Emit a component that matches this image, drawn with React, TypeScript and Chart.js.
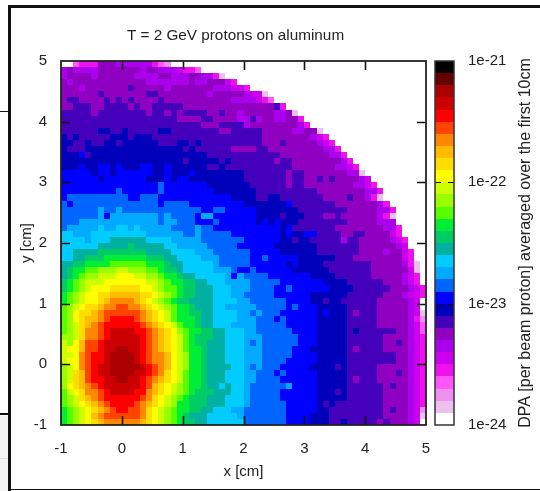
import React, { useEffect, useRef } from "react";
import { Chart, registerables } from "chart.js";

Chart.register(...registerables);

const TITLE = "T = 2 GeV protons on aluminum";
const X_LABEL = "x [cm]";
const Y_LABEL = "y [cm]";
const BAR_LABEL = "DPA [per beam proton] averaged over the first 10cm";
const BAR_TICKS = ["1e-24", "1e-23", "1e-22", "1e-21"];
const FONT = "'Liberation Sans', Arial, sans-serif";

// Palette: one colour per band of the colour bar, from 1e-24 upward (10 bands a decade)
const LEVEL_COLORS = [
  "#ffffff", "#ecc0ec", "#ee90ee", "#ff55ff", "#ee11ee", "#cc00ee", "#aa00ee", "#9000c0", "#4400bb", "#0000bb",
  "#0000ff", "#0066ff", "#00aaff", "#00ccff", "#00b0a0", "#00cc66", "#00ee33", "#55ff00", "#99ff00", "#ccff00",
  "#ffff00", "#ffdd00", "#ffbb00", "#ff8800", "#ff4400", "#ff0000", "#cc0000", "#aa0000", "#660000", "#000000",
];

// Band index (base 36) of each 0.1 cm cell; top row is y = 4.9..5, first column x = -1..-0.9
const CELL_ROWS = [
  "0034447776 66666432",
  "6766667777 7776776665 443",
  "6777767777 7766667766 6776641",
  "7677777777 7777666666 676677754",
  "7776777777 7877777677 7777766655 4",
  "7777778777 7777887777 7777677777 6551",
  "7887777878 7877778777 7777777766 66543",
  "7788877888 8787788888 7777777777 7777784",
  "8888878888 8888788787 8888778776 777776671",
  "8888888888 8888888887 7778877776 6867766774",
  "8888888888 8888888888 8887778888 6777777776 4",
  "8888889988 9888889988 8888887788 8887777766 771",
  "9898888899 9899988888 8888888888 8887777777 7654",
  "9988988998 9999998889 9898888888 8887778777 77654",
  "9888999999 9999999999 8988888877 7788777777 777664",
  "999a899999 9999999999 9999888888 8888887777 7777664",
  "9999999999 9999999999 8999998988 8888878877 77777764",
  "999a99aa9a 999aa99a99 9999889888 8888888877 777776654",
  "aaaaa9aa9a aaaaa99a99 9a99999999 8888888788 7777777661",
  "aaaaaa9aaa aaaa999a9a a999999999 8888888788 77878777765",
  "aaaaaaaaaa aaaaaabaaa aaaa999999 9888888788 777777776654",
  "aaaaaaaaab aaaaaabaaa aaaaa99999 9988888888 8877777777664",
  "abbbbbbbbb baabbbaaaa aaaaaaaa99 9988998888 8887777877641",
  "babbbbbbbb bbbbbbabbb baaaaaaaaa 9999999a88 88888777777764",
  "bbbbbbcbbc bbbbbbbbbb bbbaabbaaa aa99999998 888888877777664",
  "bbbbbbcacc ccccccbcbb bbaccaaaaa aa99998999 888778777777641",
  "bbbccccccc ccccccbccb bbaaabaaaa aa9a9a9998 888888877777666",
  "bcccccdccd dcdcccccbb bbcbbaaaaa aaaaaa9a88 8888877777777664",
  "ddcccddddd ddddcccccc bbcbbbbbaa aaaaaa9a99 aa88887788777754",
  "ddddcdddee eeeeddddcc cccbbbbbbb aaaaaa9989 98888868877777654",
  "ddddddeeee efeeeeeddc ccccbbbbba aaaaa99999 9988888887 7777765",
  "ddeeeeffff ffffeeeedd ddcccbbbbb baaaaa9999 9988888887 77767754",
  "ddeefffggg ggggfffeed dddcccbbbb baabaaaaa9 9999988877 77777754",
  "eeffgggghh hhhhgggfee dddddcbbbb baaaaaa9a9 9998888888 877777641",
  "efgghhiiij jiiihhgffe dddddcccba abaaaaaa99 9999888888 877777751",
  "efghiijjjk kkjjiihggf eedddddcac bbbbaaaaaa a999988888 877777654",
  "fghijjjkkk kkkkjjihgg ffeedddccc cbbbbbaaaa aaa9999888 888777654",
  "fghijkkkll lllkkjihhg ffeeedddcc cbbbbaabaa aaaa999988 8888777654",
  "ghijkkllmm mmmllkjihg ffeeedddcc bbbbbaaaaa a999999888 8887776554",
  "ghijkklmnn nnmlkjihgf feeeeddddc cbbbbbbaaa a998998888 8877777650",
  "hijkllmnno onnmlkjihg gfeeeddccc ccbbbbbaba aa99999888 8877777650",
  "hikllmnooo ooonmlkjhg gffeeddddc cbcbbbaaaa aa9a999878 8877777651",
  "hiklmmnopp pponmlkjhg ggfeeddddc ccbbbabaaa aa99999888 8877777642",
  "hijlmnoppp ppponmlkjh ggfeedddcc ccbbbbbaaa aa99999888 8877777653",
  "hijlnnopqq qqpponmlki hggffeeddd ccbbbbbbaa aa99999898 8888877653",
  "iijlnnopqq qqqponmlkj hgfffeeddd cccbbbbbba aa99999888 8887777654",
  "jikmoopqqq qqqponmlkj hgffeeeddd cbcbbbbbba aa99999888 8887787654",
  "jkkmoopqqr rqqponmlkj hggfeeeddd cccbbbbbaa a999999878 8887777654",
  "jjknoppqrr rrqponnmkj iggfeeeddd cccbbbbbaa aa99999888 8888877654",
  "jkknoppqrr rrqponnmkj iggfeeeddd cccbbbbaaa aa99999888 8888877654",
  "ijknopqqrr rrrqponmkj iggfeeeedd cbcbbbaaaa a999989888 8877777654",
  "ijlmopqqrr rrqqponlkj hggfeeeddd ccbbbabaaa aa99999888 8877787654",
  "ijlmoppqqr rqqponmlkj hggfeeeddd ccbbbbaaaa aa99999878 8877777654",
  "iklmnopqqq qqqpomlkji hggfeededd cbbbbbbcaa aa99999888 8887877654",
  "hjklnnopqq qqppnmlkji hgfffeeedd cbbbbbaaaa aa99989888 8887777654",
  "hijlmnoppp ppponlkjih gfffeeeddd cbbbbbaaaa aa99999888 8887777654",
  "hijklmnopp pponmlkjig gfffeeeddd cbbbbbbaaa aa98988888 8887777654",
  "ghijklmnop poonlkjihg gffeedddcc bbbbbbbaaa aa99888888 8887877652",
  "ghijkmnooo ooonlkjihg feeedddddc bbbbbbbaaa a999888888 8887777651",
  "ghijklmnnn nnnmlkjihg ffeedddddd bbbbbbbaaa a999889888 8878777650",
];

const AXIS_MIN = -1;
const AXIS_MAX = 5;
const CELL = 0.1;
const BAR_MIN = 1e-24;
const BAR_MAX = 1e-21;

const cells: { x: number; y: number; v: number }[] = [];
CELL_ROWS.forEach((row, j) => {
  row.replace(/ /g, "").split("").forEach((ch, i) => {
    cells.push({ x: AXIS_MIN + i * CELL, y: AXIS_MAX - (j + 1) * CELL, v: parseInt(ch, 36) });
  });
});

const BAR_LEFT = 435;
const BAR_RIGHT = 454;

const chrome = {
  id: "chrome",
  beforeDraw(chart: any) {
    const c = chart.ctx;
    c.save();
    c.fillStyle = "#ffffff";
    c.fillRect(0, 0, 540, 491);
    c.fillStyle = "#f4f4f4";
    c.fillRect(0, 416, 8, 75);
    c.fillStyle = "#dddddd";
    c.fillRect(0, 458, 8, 1);
    c.fillStyle = "#111111";
    c.fillRect(8, 5, 532, 3);
    c.fillRect(8, 5, 3, 486);
    c.fillRect(10, 489, 530, 1);
    c.fillRect(0, 111, 9, 1);
    c.fillRect(0, 413, 9, 2);
    c.fillStyle = "#222222";
    c.font = `15.3px ${FONT}`;
    c.textAlign = "center";
    c.textBaseline = "middle";
    c.fillText(TITLE, 235.5, 36);
    c.restore();
  },
};

const heat = {
  id: "heat",
  beforeDatasetsDraw(chart: any) {
    const { ctx: c, scales } = chart;
    const xs = scales.x;
    const ys = scales.y;
    for (const d of chart.data.datasets[0].data) {
      const l = Math.round(xs.getPixelForValue(d.x));
      const r = Math.round(xs.getPixelForValue(d.x + CELL));
      const t = Math.round(ys.getPixelForValue(d.y + CELL));
      const b = Math.round(ys.getPixelForValue(d.y));
      c.fillStyle = LEVEL_COLORS[d.v];
      c.fillRect(l, t, r - l, b - t);
    }
  },
  afterDatasetsDraw(chart: any) {
    const { ctx: c, scales, chartArea: a } = chart;
    const xs = scales.x;
    const ys = scales.y;
    const cb = scales.cb;
    c.save();
    // tick marks inside the plot on all four sides
    c.strokeStyle = "#111111";
    c.lineWidth = 1.6;
    c.beginPath();
    xs.ticks.forEach((t: any) => {
      const p = Math.round(xs.getPixelForValue(t.value)) + 0.5;
      if (t.value === AXIS_MIN || t.value === AXIS_MAX) return;
      c.moveTo(p, a.bottom);
      c.lineTo(p, a.bottom - 9);
      c.moveTo(p, a.top);
      c.lineTo(p, a.top + 9);
    });
    ys.ticks.forEach((t: any) => {
      const p = Math.round(ys.getPixelForValue(t.value)) + 0.5;
      if (t.value === AXIS_MIN || t.value === AXIS_MAX) return;
      c.moveTo(a.left, p);
      c.lineTo(a.left + 9, p);
      c.moveTo(a.right, p);
      c.lineTo(a.right - 9, p);
    });
    c.stroke();
    c.strokeStyle = "#222222";
    c.lineWidth = 1.8;
    c.strokeRect(a.left, a.top, a.right - a.left, a.bottom - a.top);

    // colour bar
    LEVEL_COLORS.forEach((col, i) => {
      const lo = Math.round(cb.getPixelForValue(BAR_MIN * Math.pow(10, i / 10)));
      const hi = Math.round(cb.getPixelForValue(BAR_MIN * Math.pow(10, (i + 1) / 10)));
      c.fillStyle = col;
      c.fillRect(BAR_LEFT, hi, BAR_RIGHT - BAR_LEFT, lo - hi);
    });
    c.strokeStyle = "#111111";
    c.lineWidth = 1;
    c.beginPath();
    cb.ticks.forEach((t: any) => {
      if (t.value <= BAR_MIN || t.value >= BAR_MAX) return;
      const p = Math.round(cb.getPixelForValue(t.value)) + 0.5;
      const len = t.major ? 6 : 3;
      c.moveTo(BAR_LEFT, p);
      c.lineTo(BAR_LEFT + len, p);
      c.moveTo(BAR_RIGHT, p);
      c.lineTo(BAR_RIGHT - len, p);
    });
    c.stroke();
    c.strokeStyle = "#333333";
    c.lineWidth = 1.5;
    c.strokeRect(BAR_LEFT, a.top, BAR_RIGHT - BAR_LEFT, a.bottom - a.top);

    // colour bar title reads bottom to top
    c.translate(526, 243);
    c.rotate(-Math.PI / 2);
    c.fillStyle = "#222222";
    c.font = `16px ${FONT}`;
    c.textAlign = "center";
    c.textBaseline = "middle";
    c.fillText(BAR_LABEL, 0, 0);
    c.restore();
  },
};

export default function App() {
  const ref = useRef<HTMLCanvasElement>(null);
  useEffect(() => {
    const font = { family: FONT, size: 15 };
    const chart = new Chart(ref.current as HTMLCanvasElement, {
      type: "scatter",
      data: { datasets: [{ data: cells as any, pointRadius: 0, showLine: false }] },
      options: {
        responsive: false,
        maintainAspectRatio: false,
        animation: false,
        events: [],
        layout: { padding: { top: 61, left: 0, right: 0, bottom: 0 } },
        plugins: {
          legend: { display: false },
          tooltip: { enabled: false },
          title: { display: false },
        },
        scales: {
          x: {
            type: "linear",
            min: AXIS_MIN,
            max: AXIS_MAX,
            afterFit: (s: any) => { s.height = 66; },
            grid: { display: false },
            border: { display: false },
            ticks: { stepSize: 1, font, color: "#222222", padding: 7, maxRotation: 0 },
            title: { display: true, text: X_LABEL, font, color: "#222222", padding: { top: 0, bottom: 10 } },
          },
          y: {
            type: "linear",
            min: AXIS_MIN,
            max: AXIS_MAX,
            afterFit: (s: any) => { s.width = 61; },
            grid: { display: false },
            border: { display: false },
            ticks: { stepSize: 1, font, color: "#222222", padding: 6 },
            title: { display: true, text: Y_LABEL, font, color: "#222222", padding: { top: 18, bottom: 0 } },
          },
          cb: {
            type: "logarithmic",
            position: "right",
            min: BAR_MIN,
            max: BAR_MAX,
            afterFit: (s: any) => { s.width = 114; },
            grid: { display: false },
            border: { display: false },
            ticks: {
              font,
              color: "#222222",
              padding: 34,
              autoSkip: false,
              callback: (v: any) => {
                const e = Math.log10(Number(v));
                if (Math.abs(e - Math.round(e)) > 1e-6) return null;
                return BAR_TICKS[Math.round(e) + 24];
              },
            },
          },
        },
      } as any,
      plugins: [chrome, heat],
    });
    return () => chart.destroy();
  }, []);
  return (
    <div style={{ position: "absolute", left: 0, top: 0, width: 540, height: 491 }}>
      <canvas ref={ref} width={540} height={491} style={{ display: "block" }} />
    </div>
  );
}
